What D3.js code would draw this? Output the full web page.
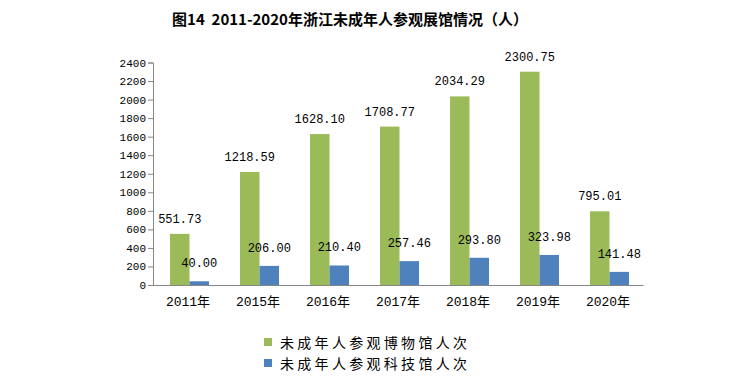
<!DOCTYPE html>
<html>
<head>
<meta charset="utf-8">
<script src="https://cdn.jsdelivr.net/npm/d3@7"></script>
<style>
  body { margin: 0; background: #fff; }
  .tick text { font-family: "Liberation Mono", "Noto Sans CJK SC", monospace; fill: #000; }
</style>
</head>
<body>
<div id="chart"></div>
<script>
// data
var years = ["2011年", "2015年", "2016年", "2017年", "2018年", "2019年", "2020年"];
var museum = [551.73, 1218.59, 1628.10, 1708.77, 2034.29, 2300.75, 795.01];
var science = [40.00, 206.00, 210.40, 257.46, 293.80, 323.98, 141.48];
var seriesNames = ["未成年人参观博物馆人次", "未成年人参观科技馆人次"];
var yTicks = [0, 200, 400, 600, 800, 1000, 1200, 1400, 1600, 1800, 2000, 2200, 2400];

var width = 748, height = 389;
var colors = ["#9bbb59", "#4f81bd"];

var svg = d3.select("#chart").append("svg")
    .attr("width", width)
    .attr("height", height);

svg.append("rect").attr("width", width).attr("height", height).attr("fill", "#fff");

// title
svg.append("text")
    .attr("x", 350)
    .attr("y", 25)
    .attr("text-anchor", "middle")
    .style("font-family", "'Noto Sans CJK SC', sans-serif")
    .style("font-weight", "bold")
    .style("font-size", "15px")
    .text("图14\u00a0\u00a02011-2020年浙江未成年人参观展馆情况（人）");

var x = d3.scaleBand().domain(years).range([153, 643]).padding(0);
var y = d3.scaleLinear().domain([0, 2400]).range([285, 62.5]);
var barW = 19.5;
var groupOff = (x.bandwidth() - barW * 2) / 2 + 1.5;

// y axis
var yAxis = svg.append("g")
    .attr("transform", "translate(153,0)")
    .call(d3.axisLeft(y).tickValues(yTicks).tickSize(5).tickPadding(2).tickFormat(d3.format("d")));
yAxis.selectAll("text").style("font-size", "11px");
yAxis.selectAll("line, path").attr("stroke", "#868686");

// x axis
var xAxis = svg.append("g")
    .attr("transform", "translate(0,285)")
    .call(d3.axisBottom(x).tickSize(0).tickPadding(12));
xAxis.selectAll("text").style("font-size", "13px");
xAxis.select("path").attr("stroke", "#868686");

var series = [museum, science];
var labelGap = [14, 17];

series.forEach(function (vals, s) {
    var g = svg.append("g");
    g.selectAll("rect")
        .data(vals)
        .enter().append("rect")
        .attr("x", function (d, i) { return x(years[i]) + groupOff + s * barW; })
        .attr("y", function (d) { return y(d); })
        .attr("width", barW)
        .attr("height", function (d) { return y(0) - y(d); })
        .attr("fill", colors[s]);

    g.selectAll("text")
        .data(vals)
        .enter().append("text")
        .attr("x", function (d, i) { return x(years[i]) + groupOff + s * barW + barW / 2; })
        .attr("y", function (d) { return y(d) - labelGap[s]; })
        .attr("text-anchor", "middle")
        .attr("dominant-baseline", "central")
        .style("font-family", "'Liberation Mono', monospace")
        .style("font-size", "12px")
        .text(function (d) { return d.toFixed(2); });
});

// legend
var legend = svg.append("g");
seriesNames.forEach(function (name, i) {
    var ly = 342 + i * 21;
    legend.append("rect")
        .attr("x", 264).attr("y", ly - 4)
        .attr("width", 8).attr("height", 8)
        .attr("fill", colors[i]);
    legend.append("text")
        .attr("x", 280).attr("y", ly)
        .attr("dominant-baseline", "central")
        .style("font-family", "'Noto Sans CJK SC', sans-serif")
        .style("font-size", "14px")
        .style("letter-spacing", "3.3px")
        .text(name);
});
</script>
</body>
</html>
